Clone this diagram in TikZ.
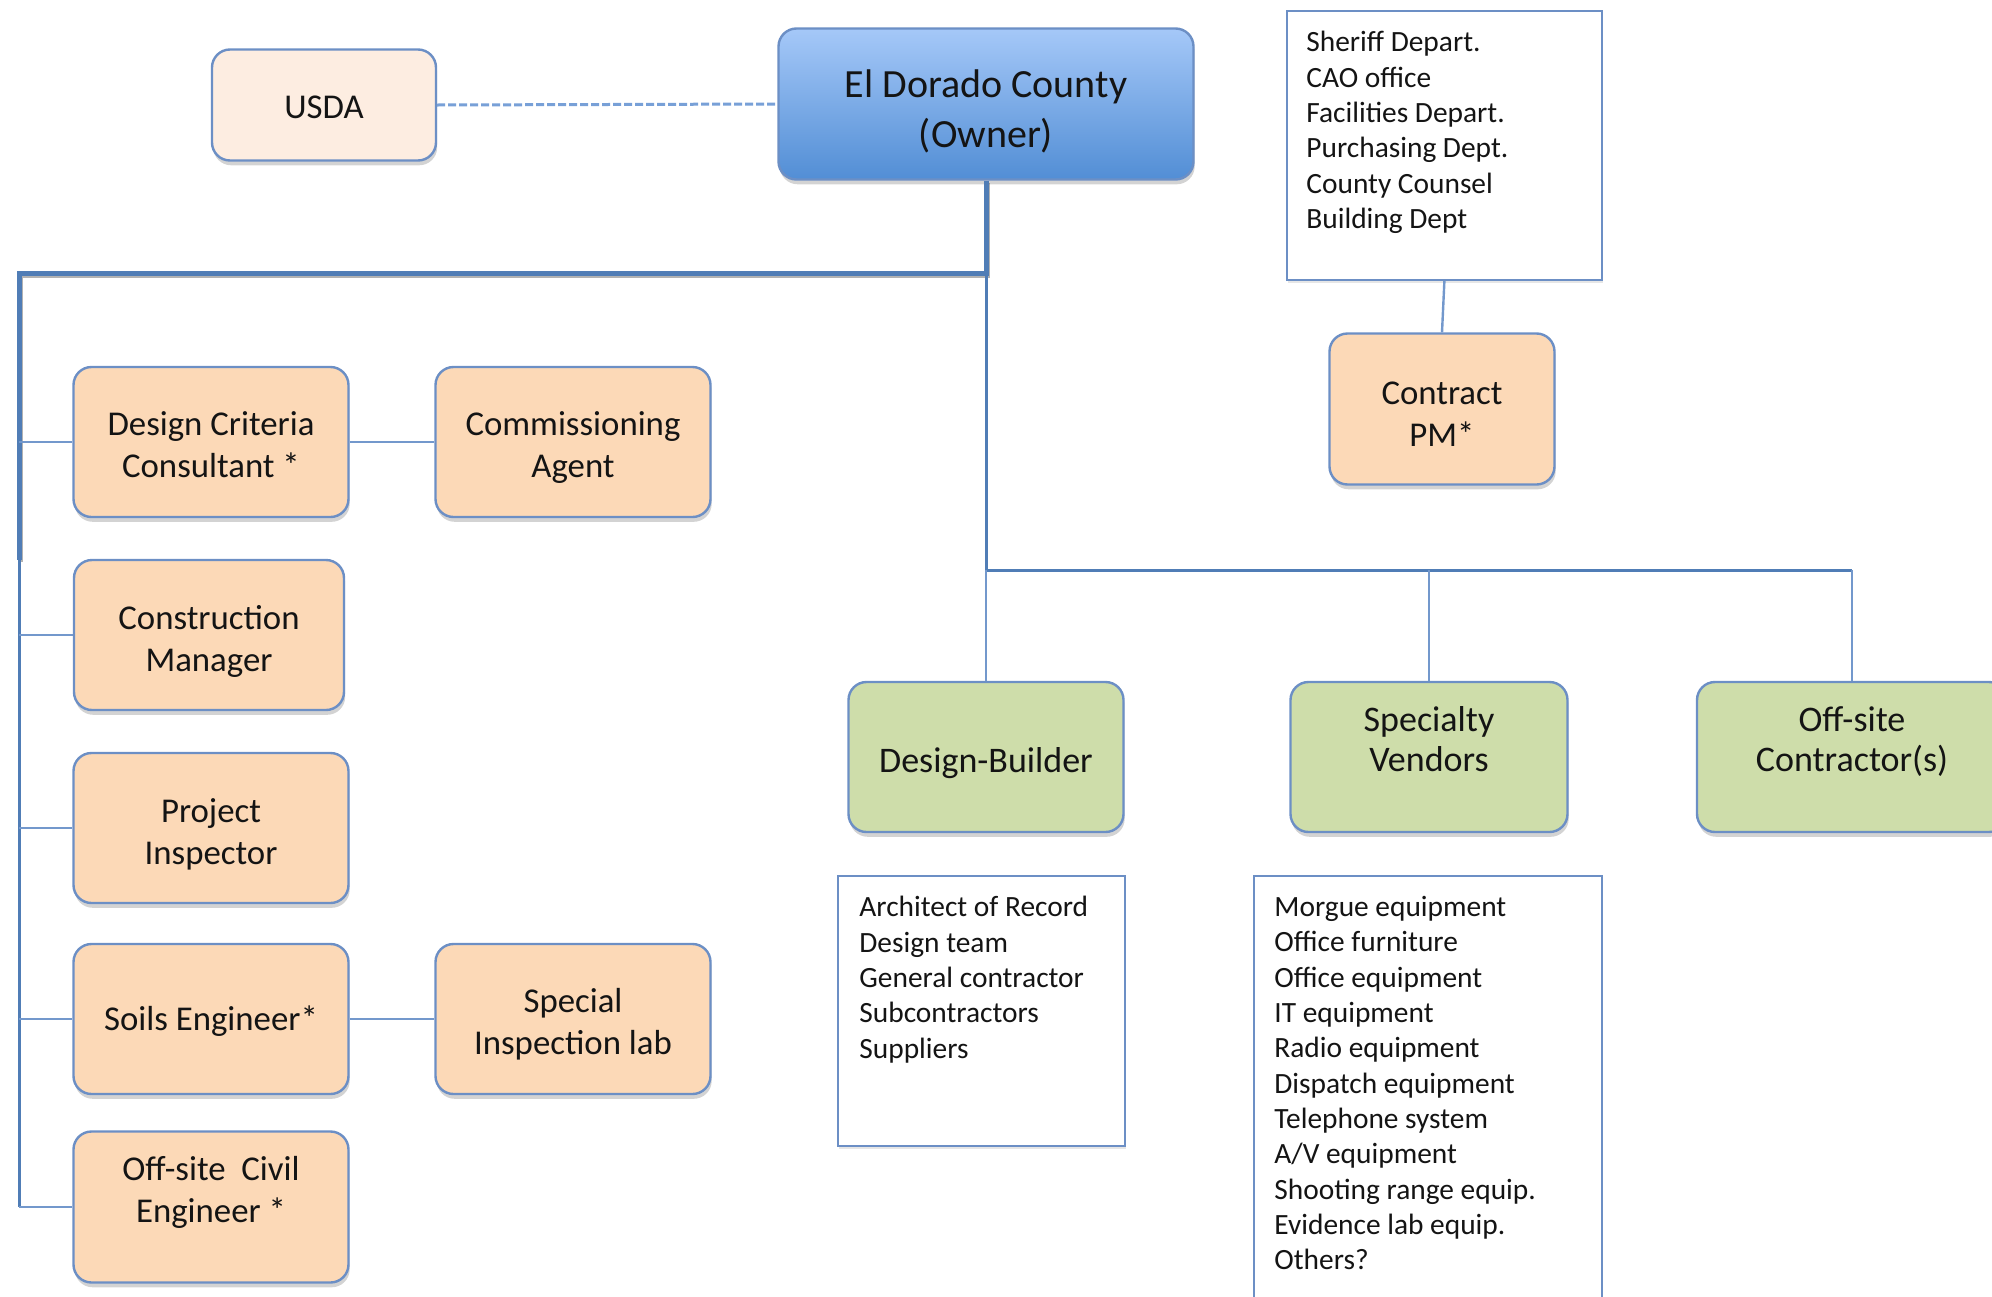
\documentclass[tikz,border=0pt]{standalone}
\usepackage{fontspec}
\setmainfont{Carlito}
\usetikzlibrary{shadows}
\definecolor{orfill}{RGB}{252,217,183}
\definecolor{usdafill}{RGB}{253,237,225}
\definecolor{grfill}{RGB}{206,221,170}
\definecolor{bord}{RGB}{108,143,197}
\definecolor{owntop}{RGB}{165,200,248}
\definecolor{ownbot}{RGB}{82,142,213}
\definecolor{busc}{RGB}{80,125,182}
\definecolor{thinc}{RGB}{115,152,204}
\definecolor{dashc}{RGB}{120,160,215}
\definecolor{txt}{RGB}{20,20,20}
\begin{document}
\begin{tikzpicture}[x=0.5pt,y=-0.5pt,
  box/.style={draw=bord, line width=1.2pt, rounded corners=9pt, align=center, text=txt,
    drop shadow={shadow xshift=0.6pt, shadow yshift=-2.4pt, opacity=0.35}, inner sep=0pt},
  orbox/.style={box, fill=orfill, minimum width=137.5pt, minimum height=75pt,
    font=\fontsize{17.4}{21}\selectfont},
  grbox/.style={box, fill=grfill, minimum width=137.5pt, minimum height=75pt,
    font=\fontsize{18}{19.7}\selectfont},
  liftup/.style={text depth=#1},
  tbox/.style 2 args={text height=#1, text depth=#2},
  listbox/.style={draw=bord, line width=0.9pt, fill=white, anchor=north west, inner sep=0pt,
    drop shadow={shadow xshift=0.5pt, shadow yshift=-1.5pt, opacity=0.2}},
  listtext/.style={anchor=north west, inner sep=0pt, align=left, text=txt,
    font=\fontsize{14.7}{17.65}\selectfont},
  bus/.style={draw=busc, line width=2.5pt},
  busshadow/.style={draw=black, opacity=0.3, line width=2.5pt,
    transform canvas={shift={(0.8pt,-1pt)}}},
  midline/.style={draw=busc, line width=1.5pt},
  conn/.style={draw=thinc, line width=1pt},
  dashline/.style={draw=dashc, line width=1.5pt, dash pattern=on 4pt off 1.5pt}
]
\useasboundingbox (0,0) rectangle (1992,1296);
\clip (0,0) rectangle (1992,1296);

% top row
\node[box, fill=usdafill, minimum width=112pt, minimum height=55.5pt, tbox={13.2pt}{0pt},
  font=\fontsize{17.4}{21}\selectfont] (usda) at (324,105) {USDA};
\node[box, draw=bord, top color=owntop, bottom color=ownbot, minimum width=207.5pt,
  minimum height=75.5pt, tbox={43pt}{0pt}, font=\fontsize{20}{25}\selectfont] (owner) at (986,104)
  {El Dorado County\\(Owner)};
\node[listbox, minimum width=157.5pt, minimum height=134.5pt] (sheriff) at (1286,10) {};
\node[listtext] (sherifftext) at ([xshift=10pt,yshift=-10.5pt]sheriff.north west)
  {Sheriff Depart.\\CAO office\\Facilities Depart.\\Purchasing Dept.\\County Counsel\\Building Dept};
\node[orbox, minimum width=112.5pt, minimum height=75.5pt, tbox={37pt}{0pt}] (pm) at (1442,409) {Contract\\PM*};

% left column
\node[orbox, tbox={35pt}{0pt}] (dcc) at (211,442) {Design Criteria\\Consultant *};
\node[orbox, tbox={35pt}{0pt}] (comm) at (573,442) {Commissioning\\Agent};
\node[orbox, minimum width=135pt, tbox={36pt}{0pt}] (cm) at (209,635) {Construction\\Manager};
\node[orbox, tbox={36pt}{0pt}] (pi) at (211,828) {Project\\Inspector};
\node[orbox, liftup=1.1pt] (soils) at (211,1019) {Soils Engineer*};
\node[orbox, tbox={35pt}{0pt}] (spec) at (573,1019) {Special\\Inspection lab};
\node[orbox, minimum height=75.5pt, liftup=18pt] (civil) at (211,1207) {Off-site~ Civil\\Engineer *};

% right row
\node[grbox, tbox={15pt}{0pt}] (db) at (986,757) {Design-Builder};
\node[grbox, minimum width=138.5pt, liftup=18pt] (sv) at (1429,757) {Specialty\\Vendors};
\node[grbox, minimum width=155pt, liftup=18pt] (oc) at (1852,757) {Off-site\\Contractor(s)};

\node[listbox, minimum width=143.5pt, minimum height=135pt] (dblist) at (837,875) {};
\node[listtext] (dblisttext) at ([xshift=11pt,yshift=-10.5pt]dblist.north west)
  {Architect of Record\\Design team\\General contractor\\Subcontractors\\Suppliers};
\node[listbox, minimum width=174pt, minimum height=215pt] (svlist) at (1253,875) {};
\node[listtext] (svlisttext) at ([xshift=10.5pt,yshift=-10.5pt]svlist.north west)
  {Morgue equipment\\Office furniture\\Office equipment\\IT equipment\\Radio equipment\\Dispatch equipment\\Telephone system\\A/V equipment\\Shooting range equip.\\Evidence lab equip.\\Others?};

% connectors
\coordinate (jtop) at (986,273);
\coordinate (jleft) at (19,273);
\coordinate (jmid) at (19,560);
\coordinate (jbot) at (19,1207);
\coordinate (jright) at (986,570);

\draw[dashline] (usda.east) -- (owner.west);
\draw[conn, line width=1.2pt] (sheriff.south) -- (pm.north);

\draw[busshadow] (owner.south) -- (jtop) -- (jleft) -- (jmid);
\draw[bus] (owner.south) -- (jtop) -- (jleft) -- (jmid);
\draw[midline] (jmid) -- (jbot);
\draw[midline] (jtop) -- (jright) -- (oc.north |- jright);
\draw[conn] (jright) -- (db.north);
\draw[conn] (sv.north |- jright) -- (sv.north);
\draw[conn] (oc.north |- jright) -- (oc.north);

\draw[conn] (jleft |- dcc.west) -- (dcc.west);
\draw[conn] (jleft |- cm.west) -- (cm.west);
\draw[conn] (jleft |- pi.west) -- (pi.west);
\draw[conn] (jleft |- soils.west) -- (soils.west);
\draw[conn] (jbot) -- (civil.west);
\draw[conn] (dcc.east) -- (comm.west);
\draw[conn] (soils.east) -- (spec.west);
\end{tikzpicture}
\end{document}
